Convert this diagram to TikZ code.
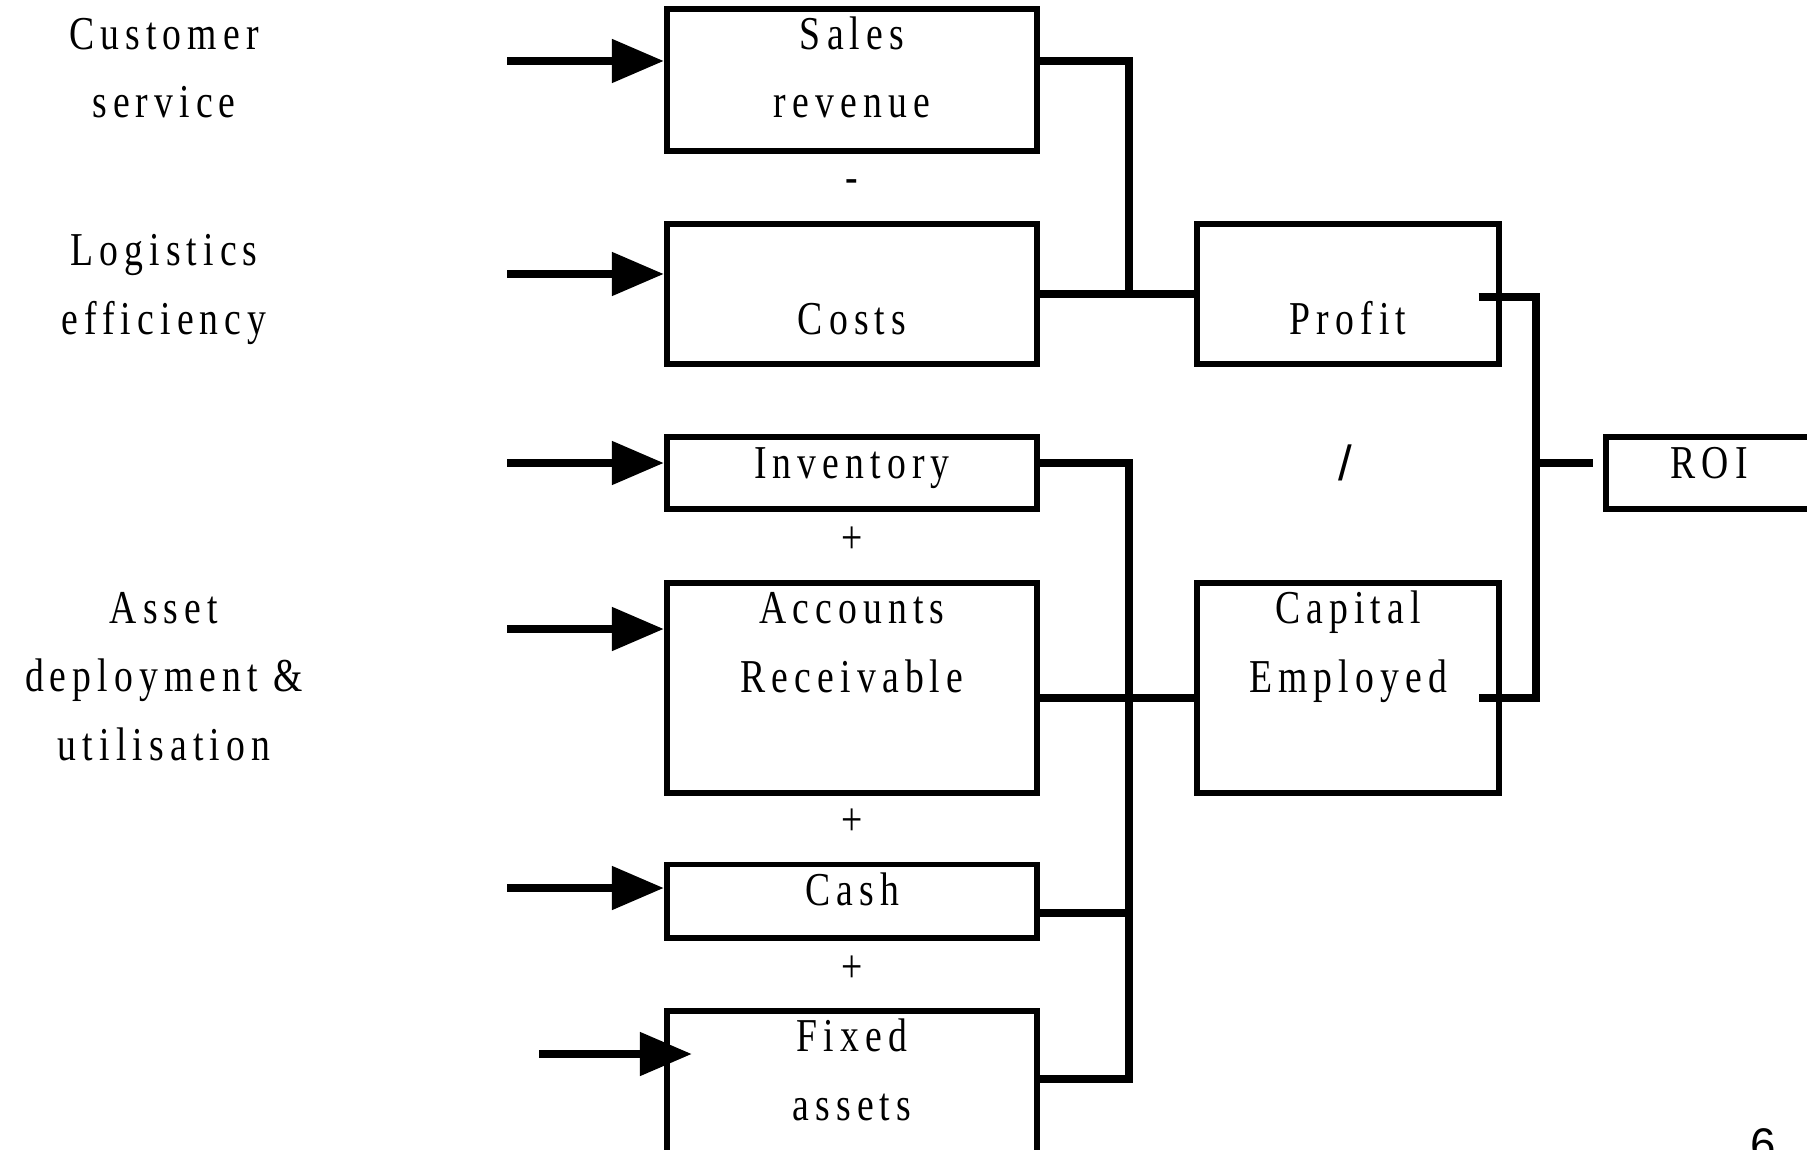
\documentclass[tikz,border=0pt]{standalone}
\usepackage{fontspec}
\setmainfont[LetterSpace=13,FakeStretch=0.8]{Liberation Serif}
\newfontfamily\pagefont{Liberation Sans}
\usetikzlibrary{arrows.meta}

\tikzset{
	box/.style={draw, line width=1.7pt, minimum width=3.7cm, inner sep=0pt},
	txt/.style={align=center, anchor=base, inner sep=0pt, font=\fontsize{13.4}{19.4}\selectfont},
	feed/.style={line width=2.3pt, -{Triangle[length=0.52cm, width=0.42cm]}},
	link/.style={line width=2.1pt},
}

\begin{document}
\begin{tikzpicture}[x=0.01cm, y=-0.01cm]
	\useasboundingbox (0,0) rectangle (1807,1149);
	\clip (0,0) rectangle (1807,1149);
	% boxes
	\node[box, minimum height=1.41cm] (sales) at (852,80) {};
	\node[box, minimum height=1.40cm] (costs) at (852,294) {};
	\node[box, minimum height=0.72cm] (inventory) at (852,473) {};
	\node[box, minimum height=2.09cm] (receivable) at (852,688) {};
	\node[box, minimum height=0.73cm] (cash) at (852,901) {};
	\node[box, minimum height=2.09cm] (fixed) at (852,1116) {};
	\node[box, minimum width=3.01cm, minimum height=1.40cm] (profit) at (1348,294) {};
	\node[box, minimum width=3.01cm, minimum height=2.09cm] (capital) at (1348,688) {};
	\node[box, minimum width=2.06cm, minimum height=0.72cm] (roi) at (1709,473) {};
	% texts (base = last line)
	\node[txt] (cust-t) at (164,118) {Customer\\service};
	\node[txt] (logi-t) at (164,334) {Logistics\\efficiency};
	\node[txt] (asset-t) at (164,760) {Asset\\deployment \&\\utilisation};
	\node[txt] (sales-t) at (852,118) {Sales\\revenue};
	\node[txt] (costs-t) at (852,334) {Costs};
	\node[txt] (inventory-t) at (852,478) {Inventory};
	\node[txt] (receivable-t) at (852,692) {Accounts\\Receivable};
	\node[txt] (cash-t) at (852,905) {Cash};
	\node[txt] (fixed-t) at (852,1120) {Fixed\\assets};
	\node[txt] (profit-t) at (1348,334) {Profit};
	\node[txt] (capital-t) at (1348,692) {Capital\\Employed};
	\node[txt] (roi-t) at (1709,478) {ROI};
	\node[txt] (minus) at (852,193) {-};
	\node[txt] (plus1) at (852,553) {+};
	\node[txt] (plus2) at (852,835) {+};
	\node[txt] (plus3) at (852,982) {+};
	\node[inner sep=0pt, font=\pagefont\fontsize{14}{16}\selectfont] (divide) at (1345,463) {/};
	\node[anchor=north, inner sep=0pt, font=\pagefont\fontsize{13}{15}\selectfont] (pageno) at (1763,1128) {6};
	% inputs
	\foreach \b/\y in {sales/61, costs/274, inventory/463, receivable/629, cash/888} {
			\coordinate (in-\b) at (507,\y);
			\draw[feed] (in-\b) -- (in-\b -| \b.west);
		}
	\coordinate (in-fixed) at (539,1054);
	\draw[feed] (in-fixed) -- ([xshift=0.28cm]in-fixed -| fixed.west);
	% profit = sales - costs
	\coordinate (sumtop) at (1129,61);
	\draw[link] (sales.east |- sumtop) -- (sumtop) -- (sumtop |- costs.east);
	\draw[link] (costs.east) -- (profit.west);
	% capital = inventory + receivable + cash + fixed
	\coordinate (captop) at (1129,463);
	\coordinate (capline) at (1129,698);
	\coordinate (cashline) at (1129,913);
	\coordinate (captail) at (1129,1079);
	\draw[link] (inventory.east |- captop) -- (captop) -- (captail) -- (captail -| fixed.east);
	\draw[link] (cash.east |- cashline) -- (cashline);
	\draw[link] (receivable.east |- capline) -- (capline -| capital.west);
	% roi = profit / capital
	\coordinate (divtop) at (1536,297);
	\coordinate (divmid) at (1536,463);
	\coordinate (divtail) at (1536,698);
	\draw[link] ([xshift=-0.23cm]profit.east |- divtop) -- (divtop) -- (divtail) -- ([xshift=-0.23cm]capital.east |- divtail);
	\draw[link] (divmid) -- ([xshift=-0.1cm]roi.west |- divmid);
\end{tikzpicture}
\end{document}
